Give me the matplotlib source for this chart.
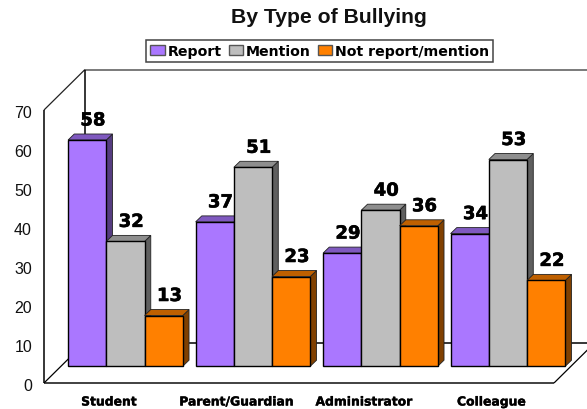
import matplotlib
matplotlib.use("Agg")
import matplotlib.pyplot as plt
import matplotlib.patheffects as pe
from matplotlib.patches import Polygon, Patch

categories = ["Student", "Parent/Guardian", "Administrator", "Colleague"]
series_names = ["Report", "Mention", "Not report/mention"]
report = [58, 37, 29, 34]
mention = [32, 51, 40, 53]
not_report = [13, 23, 36, 22]
y_ticks = [0, 10, 20, 30, 40, 50, 60, 70]

front_colors = ["#AA77FF", "#BEBEBE", "#FF8000"]
top_colors = ["#7F59BF", "#8E8E8E", "#BF6000"]
side_colors = ["#553C80", "#5F5F5F", "#804000"]

W, H = 587, 410
fig = plt.figure(figsize=(W / 100, H / 100), dpi=100, facecolor="white")
L, R, T, B = 44, 554, 111, 384
ax = fig.add_axes([L / W, 1 - B / H, (R - L) / W, (B - T) / H])
ax.set_xlim(-0.5, 3.5)
ax.set_ylim(0, 70)
ax.axis("off")

px = 4 / (R - L)
py = 70 / (B - T)
wall_dx, wall_dy = 41 * px, 40.5 * py
off_x, off_y = 17.7 * px, 16.8 * py
bar_dx, bar_dy = 6.2 * px, 6 * py
bw = 0.3

x0, x1 = -0.5, 3.5
line_kw = dict(clip_on=False, solid_capstyle="butt")
# back wall and floor
ax.plot([x0 + wall_dx, x1 + wall_dx], [70 + wall_dy, 70 + wall_dy], color="#707070", lw=1.3, zorder=1, **line_kw)
ax.plot([x0, x0 + wall_dx], [70, 70 + wall_dy], color="#222222", lw=0.9, zorder=1, **line_kw)
ax.plot([x0 + wall_dx, x0 + wall_dx], [wall_dy, 70 + wall_dy], color="black", lw=1.1, zorder=1, **line_kw)
ax.plot([x0, x0], [0, 70], color="black", lw=1.1, zorder=1, **line_kw)
ax.plot([x0 + wall_dx, x1 + wall_dx], [wall_dy, wall_dy], color="black", lw=1.1, zorder=1, **line_kw)
ax.plot([x0, x1], [0, 0], color="#333333", lw=1.3, zorder=1, **line_kw)
ax.plot([x0, x0 + wall_dx], [0, wall_dy], color="black", lw=0.9, zorder=1, **line_kw)
ax.plot([x1, x1 + wall_dx], [0, wall_dy], color="black", lw=0.9, zorder=1, **line_kw)

# y tick labels
for v in y_ticks:
    ax.text(x0 - 12 * px, v - 2.6 * py, str(v), ha="right", va="center",
            family="Liberation Sans", fontsize=11.5, color="#111111", clip_on=False)

# category labels
for i, c in enumerate(categories):
    ax.text(i + 1 * px, -19 * py, c, ha="center", va="center", family="DejaVu Sans",
            fontweight="bold", fontsize=8.9, color="black", clip_on=False,
            path_effects=[pe.withStroke(linewidth=0.25, foreground="black")])

# bars
all_vals = [report, mention, not_report]
for s, vals in enumerate(all_vals):
    z = 3 + s
    for i, v in enumerate(vals):
        left = i - 0.45 + s * bw + off_x
        right = left + bw
        base, top = off_y, v + off_y
        ax.bar(left, v, width=bw, bottom=off_y, align="edge", color=front_colors[s],
               edgecolor="black", linewidth=1.0, zorder=z + 0.2, clip_on=False)
        ax.add_patch(Polygon([(right, base), (right + bar_dx, base + bar_dy),
                              (right + bar_dx, top + bar_dy), (right, top)],
                             facecolor=side_colors[s], edgecolor="#222222", linewidth=0.6,
                             zorder=z, clip_on=False))
        ax.add_patch(Polygon([(left, top), (left + bar_dx, top + bar_dy),
                              (right + bar_dx, top + bar_dy), (right, top)],
                             facecolor=top_colors[s], edgecolor="#222222", linewidth=0.6,
                             zorder=z, clip_on=False))

# value labels
for s, vals in enumerate(all_vals):
    for i, v in enumerate(vals):
        ax.annotate(str(v), (i - 0.45 + s * bw + off_x + bw / 2, v + off_y),
                    xytext=(5.7, 19.5), textcoords="offset pixels", ha="center", va="center",
                    family="DejaVu Sans", fontweight="bold", fontsize=13, color="black",
                    zorder=10, annotation_clip=False,
                    path_effects=[pe.withStroke(linewidth=0.4, foreground="black")])

fig.text(328.5 / W, 1 - 17.5 / H, "By Type of Bullying", ha="center", va="center",
         family="Liberation Sans", fontweight="bold", fontsize=15.2, color="#111111")

handles = [Patch(facecolor=front_colors[i], edgecolor="#555555", linewidth=1.0) for i in range(3)]
leg = fig.legend(handles, series_names, ncol=3, loc="center", bbox_to_anchor=(319.5 / W, 1 - 52 / H),
                 frameon=True, fancybox=False, edgecolor="#444444", framealpha=1,
                 prop={"family": "DejaVu Sans", "weight": "bold", "size": 10.2},
                 handlelength=1.0, handleheight=0.72, handletextpad=0.2, columnspacing=0.5,
                 borderpad=0.3, borderaxespad=0)
leg.get_frame().set_linewidth(1.1)
fig.savefig("out.png", dpi=100, facecolor="white")
